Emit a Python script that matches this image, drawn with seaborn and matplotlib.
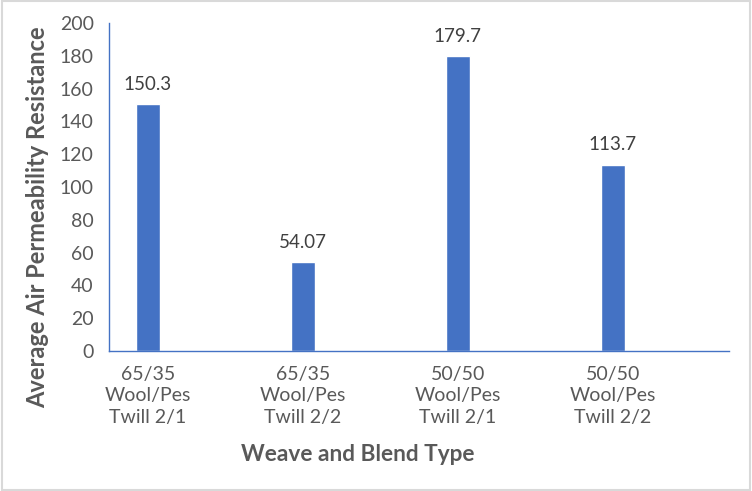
import numpy as np
import pandas as pd
import matplotlib
matplotlib.use("Agg")
import matplotlib.pyplot as plt
import seaborn as sns

# ---- Data ----
categories = ["65/35\nWool/Pes\nTwill 2/1", "65/35\nWool/Pes\nTwill 2/2",
              "50/50\nWool/Pes\nTwill 2/1", "50/50\nWool/Pes\nTwill 2/2"]
resistance = [150.3, 54.07, 179.7, 113.7]
value_labels = ["150.3", "54.07", "179.7", "113.7"]

df = pd.DataFrame({"blend": categories, "resistance": resistance})

# ---- Style ----
sns.set_style("white")
plt.rcParams["font.family"] = ["Lato", "DejaVu Sans"]
bar_color = "#4472C4"
text_gray = "#595959"

fig = plt.figure(figsize=(7.52, 4.91), dpi=100)
ax = fig.add_axes([0.145, 0.2851, 0.8244, 0.6681])

sns.barplot(data=df, x="blend", y="resistance", color=bar_color,
            width=0.155, saturation=1, ax=ax)

for i, lbl in enumerate(value_labels):
    ax.text(i, resistance[i] + 7, lbl, ha="center", va="bottom",
            fontsize=13.5, color="#404040")

ax.set_xlim(-0.25, 3.75)
ax.set_ylim(0, 200)
ax.set_yticks(np.arange(0, 201, 20))
ax.tick_params(axis="both", length=0, labelsize=14, colors=text_gray)
ax.tick_params(axis="y", pad=11)
ax.tick_params(axis="x", pad=11)
for t in ax.get_xticklabels():
    t.set_linespacing(1.3)

for side in ["top", "right"]:
    ax.spines[side].set_visible(False)
for side in ["left", "bottom"]:
    ax.spines[side].set_color(bar_color)
    ax.spines[side].set_linewidth(1.0)

ax.set_xlabel("Weave and Blend Type", fontsize=16.3, fontweight="bold",
              color=text_gray, va="center")
ax.set_ylabel("Average Air Permeability Resistance", fontsize=17,
              fontweight="bold", color=text_gray, va="center")
ax.xaxis.set_label_coords(0.401, -0.314)
ax.yaxis.set_label_coords(-0.116, 0.4085)

# figure border
fig.patches.append(plt.Rectangle((0.002, 0.003), 0.996, 0.994, transform=fig.transFigure,
                                 fill=False, edgecolor="#D9D9D9", linewidth=1.5))

fig.savefig("out.png", dpi=100)
